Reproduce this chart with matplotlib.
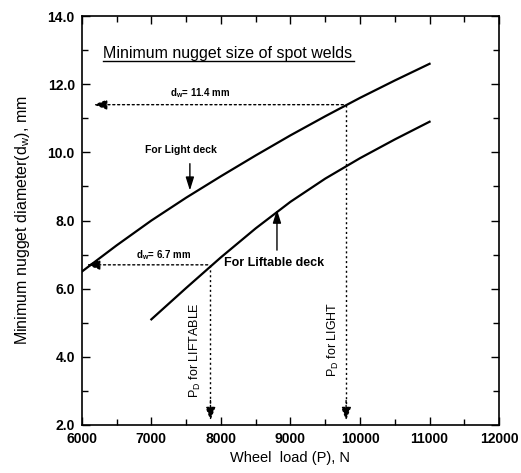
import numpy as np
import matplotlib
matplotlib.use('Agg')
import matplotlib.pyplot as plt
from matplotlib.ticker import MultipleLocator, FormatStrFormatter

# wheel load (N) vs minimum nugget diameter (mm)
load_light = [6000, 6500, 7000, 7500, 8000, 8500, 9000, 9500, 10000, 10500, 11000]
dw_light = [6.5, 7.27, 8.0, 8.67, 9.3, 9.91, 10.5, 11.06, 11.6, 12.11, 12.6]

load_lift = [7000, 7500, 8000, 8500, 9000, 9500, 10000, 10500, 11000]
dw_lift = [5.1, 6.02, 6.92, 7.77, 8.55, 9.23, 9.83, 10.38, 10.9]

# design points
pd_light, dwd_light = 9800, 11.4
pd_lift, dwd_lift = 7850, 6.7

plt.rcParams['font.family'] = ['Liberation Sans', 'DejaVu Sans']
plt.rcParams['mathtext.default'] = 'regular'

fig = plt.figure(figsize=(5.21, 4.73), dpi=100)
ax = fig.add_axes([0.157, 0.1015, 0.801, 0.8645])

ax.plot(load_light, dw_light, color='black', lw=1.6)
ax.plot(load_lift, dw_lift, color='black', lw=1.6)

ax.set_xlim(6000, 12000)
ax.set_ylim(2.0, 14.0)
ax.xaxis.set_major_locator(MultipleLocator(1000))
ax.xaxis.set_minor_locator(MultipleLocator(500))
ax.yaxis.set_major_locator(MultipleLocator(2))
ax.yaxis.set_minor_locator(MultipleLocator(1))
ax.yaxis.set_major_formatter(FormatStrFormatter('%.1f'))
ax.tick_params(which='both', direction='in', top=True, right=True,
               labelsize=10, width=1, pad=5)
ax.tick_params(which='major', length=6)
ax.tick_params(which='minor', length=4)
for lbl in ax.get_xticklabels() + ax.get_yticklabels():
    lbl.set_fontweight('bold')
for s in ax.spines.values():
    s.set_linewidth(1.2)

ax.set_xlabel('Wheel  load (P), N', fontsize=10.5, labelpad=4)
ax.set_ylabel('Minimum nugget diameter(d$_w$), mm', fontsize=11.5, labelpad=11)

dot = dict(color='black', lw=1, ls=(0, (1.5, 2)))
arr = dict(arrowstyle='-|>,head_length=0.8,head_width=0.3', color='black', lw=1, ls=(0, (1.5, 2)))

# light deck design lines
ax.plot([pd_light, pd_light], [dwd_light, 2.3], **dot)
ax.annotate('', xy=(6130, dwd_light), xytext=(pd_light, dwd_light), arrowprops=arr)
ax.annotate('', xy=(pd_light, 2.05), xytext=(pd_light, 2.8), arrowprops=arr)

# liftable deck design lines
ax.plot([pd_lift, pd_lift], [dwd_lift, 2.3], **dot)
ax.annotate('', xy=(6030, dwd_lift), xytext=(pd_lift, dwd_lift), arrowprops=arr)
ax.annotate('', xy=(pd_lift, 2.05), xytext=(pd_lift, 2.8), arrowprops=arr)

ax.text(6300, 12.76, 'Minimum nugget size of spot welds', fontsize=11.5,
        ha='left', va='baseline')
ax.plot([6300, 9920], [12.68, 12.68], color='black', lw=1)

ax.text(7700, 11.73, 'd$_w$= 11.4 mm', fontsize=7, fontweight='bold', ha='center', va='center')
ax.text(7170, 7.0, 'd$_w$= 6.7 mm', fontsize=7, fontweight='bold', ha='center', va='center')

ax.text(7425, 10.07, 'For Light deck', fontsize=7.5, fontweight='bold', ha='center', va='center')
ax.annotate('', xy=(7554, 8.8), xytext=(7554, 9.75),
            arrowprops=dict(arrowstyle='-|>,head_length=0.8,head_width=0.25', color='black', lw=1))

ax.text(8042, 6.76, 'For Liftable deck', fontsize=9, fontweight='bold', ha='left', va='center')
ax.annotate('', xy=(8806, 8.4), xytext=(8806, 7.05),
            arrowprops=dict(arrowstyle='-|>,head_length=0.8,head_width=0.25', color='black', lw=1))

ax.text(7640, 4.2, 'P$_D$ for LIFTABLE', fontsize=9, rotation=90, ha='center', va='center')
ax.text(9612, 4.5, 'P$_D$ for LIGHT', fontsize=9, rotation=90, ha='center', va='center')

fig.savefig('out.png', dpi=100)
